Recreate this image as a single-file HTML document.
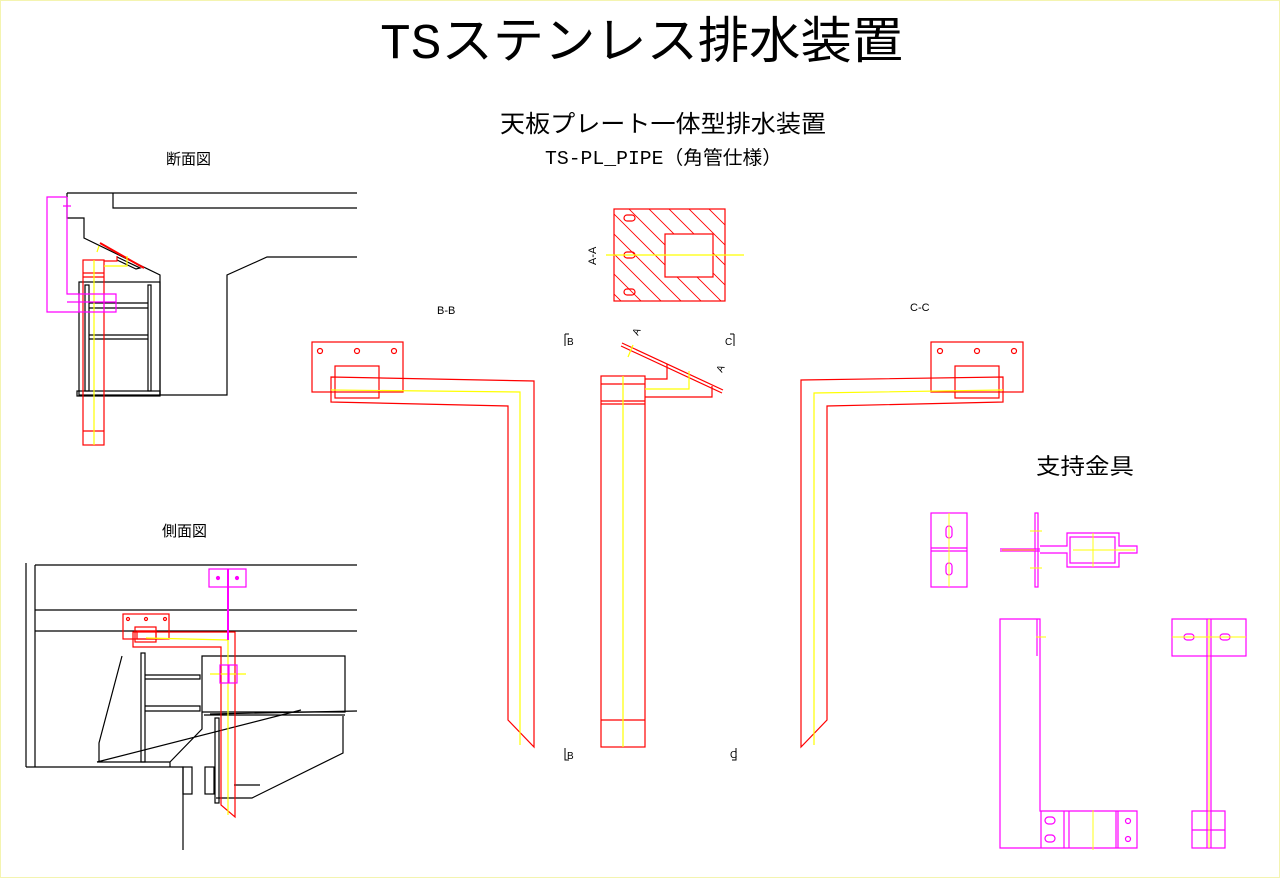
<!DOCTYPE html>
<html><head><meta charset="utf-8"><style>
html,body{margin:0;padding:0;background:#fff;}
svg{display:block}
text{font-family:"Liberation Sans","Noto Sans CJK JP",sans-serif}
.m{font-family:"Liberation Mono","Noto Sans CJK JP",monospace}
</style></head><body>
<svg width="1280" height="878" viewBox="0 0 1280 878" xmlns="http://www.w3.org/2000/svg">
<rect x="0.5" y="0.5" width="1279" height="877" fill="#fff" stroke="#f4f4b0"/>
<defs>
<clipPath id="aa"><rect x="614" y="209" width="111" height="92"/></clipPath>
</defs>
<!-- titles -->
<text class="m" x="380" y="58" font-size="50" textLength="523" lengthAdjust="spacingAndGlyphs" fill="#000">TSステンレス排水装置</text>
<text x="500" y="132" font-size="24" textLength="326" lengthAdjust="spacingAndGlyphs">天板プレート一体型排水装置</text>
<text class="m" x="545" y="164" font-size="19" textLength="237" lengthAdjust="spacingAndGlyphs">TS-PL_PIPE（角管仕様）</text>
<text x="166" y="164" font-size="15">断面図</text>
<text x="162" y="536" font-size="15">側面図</text>
<text x="1036" y="474" font-size="22" textLength="98" lengthAdjust="spacingAndGlyphs">支持金具</text>
<text x="437" y="314" font-size="11">B-B</text>
<text x="910" y="311" font-size="11">C-C</text>
<text x="0" y="0" font-size="11" transform="translate(596,265) rotate(-90)">A-A</text>
<text x="567" y="345" font-size="10" fill="#000">B</text>
<text x="567" y="759" font-size="10" fill="#000">B</text>
<text x="725" y="345" font-size="10" fill="#000">C</text>
<text x="730" y="758" font-size="10" fill="#000">C</text>
<text x="0" y="0" font-size="10" fill="#000" transform="translate(638,336) rotate(-65)">A</text>
<text x="0" y="0" font-size="10" fill="#000" transform="translate(722,373) rotate(-65)">A</text>

<g fill="none" stroke-width="1.2">
<!-- A-A -->
<g stroke="#f00">
<g clip-path="url(#aa)">
<path d="M560,160 l200,200 M580,160 l200,200 M600,160 l200,200 M620,160 l200,200 M640,160 l200,200 M660,160 l200,200 M680,160 l200,200 M700,160 l200,200 M540,160 l200,200 M520,160 l200,200 M500,160 l200,200 M480,160 l200,200 M460,160 l200,200" stroke-width="0.9"/>
</g>
<rect x="665" y="234" width="48" height="43" fill="#fff"/>
<rect x="614" y="209" width="111" height="92"/>
<rect x="624" y="215" width="11" height="6" rx="3"/>
<rect x="624" y="252" width="11" height="6" rx="3"/>
<rect x="624" y="289" width="11" height="6" rx="3"/>
</g>
<line x1="606" y1="255" x2="744" y2="255" stroke="#ff0"/>

<!-- B-B -->
<g stroke="#f00">
<rect x="312" y="342" width="91" height="50"/>
<circle cx="320" cy="351" r="2.5"/><circle cx="357" cy="351" r="2.5"/><circle cx="394" cy="351" r="2.5"/>
<rect x="335" y="366" width="44" height="32"/>
<path d="M331,377 L534,381 L534,747 L508,720 L508,406 L331,402 Z"/>
</g>
<path d="M331,390 L520,392 L520,745" stroke="#ff0"/>

<!-- C-C -->
<g stroke="#f00">
<rect x="931" y="342" width="92" height="50"/>
<circle cx="940" cy="351" r="2.5"/><circle cx="977" cy="351" r="2.5"/><circle cx="1014" cy="351" r="2.5"/>
<rect x="955" y="366" width="44" height="32"/>
<path d="M1003,377 L801,380 L801,747 L827,720 L827,406 L1003,402 Z"/>
</g>
<path d="M1003,390 L814,393 L814,745" stroke="#ff0"/>

<!-- center -->
<g stroke="#f00">
<rect x="601" y="376" width="44" height="371"/>
<line x1="601" y1="384" x2="645" y2="384"/>
<line x1="601" y1="401" x2="645" y2="401"/>
<line x1="601" y1="404" x2="645" y2="404"/>
<line x1="601" y1="720" x2="645" y2="720"/>
<path d="M645,379 L667,379 L667,364"/>
<path d="M645,397 L712,397 L712,386"/>
<path d="M622,343 L723,390 M621,346 L722,393"/>
</g>
<path d="M623,376 V747 M645,389 L689,389 L689,371 M633,345 L628,357" stroke="#ff0"/>
<g stroke="#000" stroke-width="1">
<path d="M565,334 V346 M565,334 h4 M565,748 V760 h4"/>
<path d="M734,334 V346 M734,334 h-4 M736,748 V760 h-4"/>
</g>

<!-- 断面図 -->
<g stroke="#000">
<path d="M67,193 H357 M113,193 V208 H357"/>
<path d="M67,193 V218 H84 V238 L160,275 V395 H227 V275 L267,257 H357"/>
<rect x="79" y="282" width="81" height="113"/>
<rect x="77" y="391" width="83" height="5"/>
<rect x="85" y="285" width="4" height="106"/>
<rect x="148" y="285" width="3" height="106"/>
<path d="M89,303 H148 M89,308 H148 M89,335 H148 M89,339 H148"/>
<path d="M117,257 L140,268 L136,269 L117,260"/>
</g>
<g stroke="#f00">
<rect x="83" y="260" width="21" height="185"/>
<path d="M83,273 H104 M83,277 H104 M83,431 H104"/>
<path d="M100,243 L144,268" stroke-width="2"/>
<path d="M104,261 H117 V256"/>
</g>
<path d="M94,260 V445 M104,266 H127 V256 M99,246 L97,252" stroke="#ff0"/>
<g stroke="#f0f">
<path d="M67,197 H47 V312 H116 V294 H67 V197"/>
<path d="M67,302 H116 M79,294 V312 M104,294 V312 M63,206 h8"/>
</g>

<!-- 側面図 -->
<g stroke="#000">
<path d="M26,563 V767 M35,565 V767 M35,565 H357 M35,610 H357 M35,631 H357"/>
<path d="M26,767 H183 V850"/>
<path d="M122,656 L99,743 V762 M97,762 H170 V767 M97,762 L301,710 M170,762 L202,729 V656 H345 V712 H202"/>
<rect x="141" y="653" width="4" height="109"/>
<path d="M145,675 H200 V679 H145 M145,706 H200 V711 H145"/>
<path d="M204,715 H345 M210,714 L357,711 M343,716 V753 L252,798 H216"/>
<rect x="183" y="767" width="9" height="27"/>
<rect x="205" y="767" width="9" height="27"/>
<rect x="215" y="718" width="4" height="85"/>
<path d="M234,785 H260"/>
</g>
<g stroke="#f00">
<rect x="123" y="614" width="46" height="25"/>
<circle cx="128" cy="619" r="1.5"/><circle cx="146" cy="619" r="1.5"/><circle cx="165" cy="619" r="1.5"/>
<rect x="135" y="627" width="21" height="15"/>
<rect x="137" y="631" width="19" height="8"/>
<path d="M133,632 H235 V817 L221,805 V647 H133 Z"/>
</g>
<path d="M146,638 L228,640 V815 M210,674 H246" stroke="#ff0"/>
<g stroke="#f0f">
<rect x="209" y="569" width="37" height="18"/>
<path d="M228,569 V640" stroke-width="2"/>
<rect x="220" y="665" width="8" height="18"/><rect x="229" y="665" width="8" height="18"/>
<circle cx="218" cy="578" r="1.5" fill="#f0f"/><circle cx="237" cy="578" r="1.5" fill="#f0f"/>
</g>

<!-- 支持金具 -->
<g stroke="#f0f">
<rect x="931" y="513" width="36" height="74"/>
<path d="M931,548 H967 M931,551 H967"/>
<rect x="946" y="526" width="6" height="12" rx="3"/>
<rect x="946" y="563" width="6" height="12" rx="3"/>
<rect x="1035" y="513" width="3" height="74"/>
<path d="M1000,549 H1040 M1000,551 H1040"/>
<path d="M1040,546 H1067 V533 H1119 V546 H1137 V553 H1119 V567 H1067 V553 H1040"/>
<rect x="1070" y="537" width="45" height="26"/>
<path d="M1000,619 H1040 V811 H1137 V848 H1000 Z"/>
<path d="M1037,619 V656 M1041,811 V848 M1064,811 V848 M1069,811 V848 M1116,811 V848 M1118,811 V848"/>
<rect x="1045" y="817" width="10" height="7" rx="3.5"/><rect x="1045" y="835" width="10" height="7" rx="3.5"/>
<circle cx="1128" cy="821" r="2.5"/><circle cx="1128" cy="839" r="2.5"/>
<rect x="1172" y="619" width="74" height="37"/>
<path d="M1207,619 V848 M1211,619 V848"/>
<rect x="1184" y="634" width="10" height="6" rx="3"/><rect x="1220" y="634" width="10" height="6" rx="3"/>
<rect x="1192" y="811" width="33" height="37"/>
<path d="M1192,830 H1225"/>
</g>
<path d="M949,513 V587 M1002,550 H1035 M1073,550 H1135 M1093,533 V567 M1030,531 h12 M1030,568 h12 M1036,637 h10 M1093,810 V850 M1172,637 H1246 M1209,619 V848" stroke="#ff0" stroke-width="0.9"/>
</g>
</svg>
</body></html>
